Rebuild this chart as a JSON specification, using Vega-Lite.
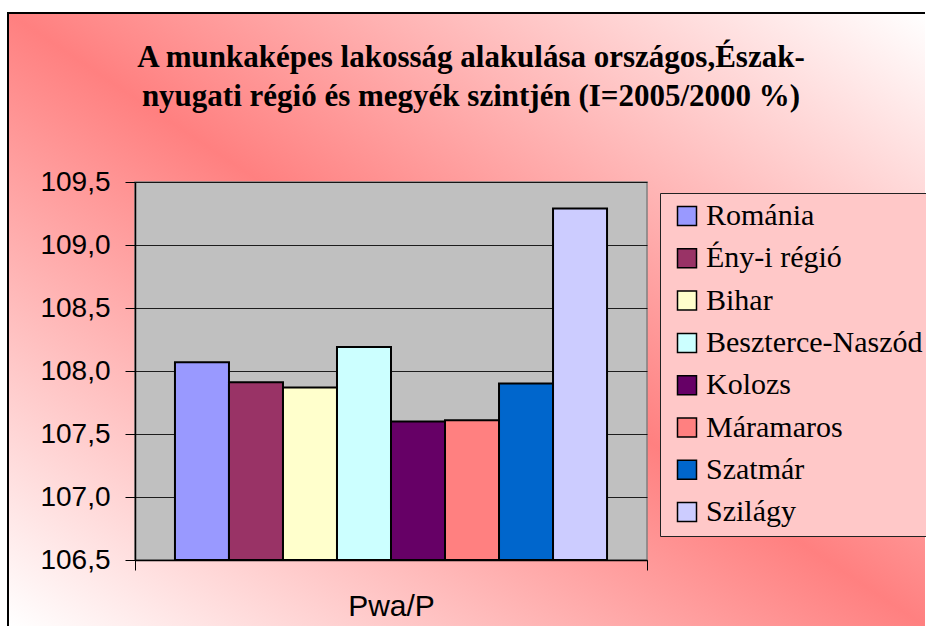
{
  "$schema": "https://vega.github.io/schema/vega-lite/v6.json",
  "padding": {"left": 7, "top": 12, "right": 0, "bottom": 0},
  "background": "white",
  "columns": 2,
  "align": "none",
  "spacing": -918,
  "concat": [
    {
      "width": 917,
      "height": 613,
      "data": {"values": []},
      "mark": {"type": "point"},
      "encoding": {},
      "view": {
        "fill": {
          "gradient": "linear",
          "x1": 1, "y1": 0, "x2": 0, "y2": 1,
          "stops": [
            {"offset": 0, "color": "#FFFFFF"},
            {"offset": 0.5, "color": "#FF8080"},
            {"offset": 1, "color": "#FFFFFF"}
          ]
        },
        "stroke": "#000000",
        "strokeWidth": 2,
        "strokeDash": [917, 1530, 613]
      }
    },
    {
      "spacing": 27,
      "vconcat": [
        {
          "width": 1,
          "height": 1,
          "data": {"values": []},
          "mark": {"type": "point"},
          "encoding": {},
          "view": {"fill": null, "stroke": null}
        },
        {
          "width": 512,
          "height": 378,
          "title": {
            "text": ["A munkaképes lakosság alakulása országos,Észak-", "nyugati régió és megyék szintjén (I=2005/2000 %)"],
            "font": "Liberation Serif",
            "fontSize": 31,
            "fontWeight": "bold",
            "color": "#000000",
            "lineHeight": 39,
            "anchor": "middle",
            "frame": "group",
            "dx": 80,
            "offset": 55
          },
          "view": {"fill": "#C0C0C0", "stroke": "#808080", "strokeWidth": 1.5},
          "data": {
            "values": [
              {"category": "Pwa/P", "series": "Románia", "value": 108.07},
              {"category": "Pwa/P", "series": "Ény-i régió", "value": 107.91},
              {"category": "Pwa/P", "series": "Bihar", "value": 107.87},
              {"category": "Pwa/P", "series": "Beszterce-Naszód", "value": 108.19},
              {"category": "Pwa/P", "series": "Kolozs", "value": 107.60},
              {"category": "Pwa/P", "series": "Máramaros", "value": 107.61},
              {"category": "Pwa/P", "series": "Szatmár", "value": 107.90},
              {"category": "Pwa/P", "series": "Szilágy", "value": 109.29}
            ]
          },
          "mark": {"type": "bar", "stroke": "#000000", "strokeWidth": 2},
          "encoding": {
            "x": {
              "field": "category",
              "type": "nominal",
              "scale": {"paddingInner": 0, "paddingOuter": 0},
              "axis": {
                "title": null,
                "labelAngle": 0,
                "labelFont": "Liberation Sans",
                "labelFontSize": 30,
                "labelColor": "#000000",
                "labelPadding": 21,
                "tickBand": "extent",
                "tickSize": 10,
                "tickColor": "#000000",
                "domainColor": "#000000",
                "domainWidth": 1.5,
                "grid": false
              }
            },
            "xOffset": {
              "field": "series",
              "type": "nominal",
              "scale": {
                "domain": ["Románia", "Ény-i régió", "Bihar", "Beszterce-Naszód", "Kolozs", "Máramaros", "Szatmár", "Szilágy"],
                "paddingInner": 0,
                "paddingOuter": 0.74
              }
            },
            "y": {
              "field": "value",
              "type": "quantitative",
              "scale": {"domain": [106.5, 109.5], "zero": false, "nice": false},
              "axis": {
                "title": null,
                "values": [106.5, 107, 107.5, 108, 108.5, 109, 109.5],
                "labelExpr": "replace(format(datum.value, '.1f'), '.', ',')",
                "labelFont": "Liberation Sans",
                "labelFontSize": 28,
                "labelColor": "#000000",
                "labelPadding": 15,
                "tickSize": 10,
                "tickColor": "#000000",
                "domainColor": "#000000",
                "domainWidth": 1.5,
                "gridColor": "#000000",
                "gridOpacity": 0.85,
                "minExtent": 126
              }
            },
            "y2": {"datum": 106.5},
            "color": {
              "field": "series",
              "type": "nominal",
              "scale": {
                "domain": ["Románia", "Ény-i régió", "Bihar", "Beszterce-Naszód", "Kolozs", "Máramaros", "Szatmár", "Szilágy"],
                "range": ["#9999FF", "#993366", "#FFFFCC", "#CCFFFF", "#660066", "#FF8080", "#0066CC", "#CCCCFF"]
              },
              "legend": {
                "title": null,
                "orient": "none",
                "legendX": 652,
                "legendY": 180,
                "fillColor": "#FFC8C8",
                "strokeColor": "#222222",
                "padding": 8,
                "symbolType": "square",
                "symbolSize": 361,
                "symbolStrokeColor": "#000000",
                "symbolStrokeWidth": 1.5,
                "symbolOffset": 4,
                "labelFont": "Liberation Serif",
                "labelFontSize": 30,
                "labelColor": "#000000",
                "labelOffset": 4,
                "rowPadding": 12.3,
                "labelLimit": 400
              }
            }
          }
        }
      ]
    }
  ],
  "config": {
    "legend": {"symbolOpacity": 1}
  }
}
